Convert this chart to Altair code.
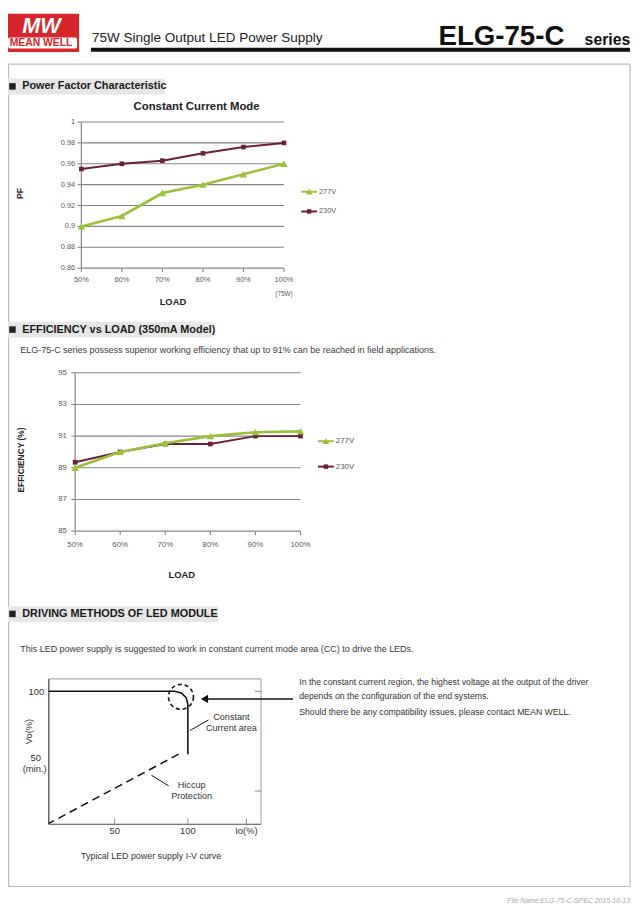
import altair as alt
import pandas as pd

# ---------------- data ----------------
LOAD = [50, 60, 70, 80, 90, 100]
LOAD_LABELS = ["50%", "60%", "70%", "80%", "90%", "100%"]
SERIES = ["277V", "230V"]

PF_277V = [0.900, 0.910, 0.932, 0.940, 0.950, 0.960]
PF_230V = [0.955, 0.960, 0.963, 0.970, 0.976, 0.980]
PF_TICKS = [0.86, 0.88, 0.90, 0.92, 0.94, 0.96, 0.98, 1.00]
PF_TICK_LABELS = ["0.86", "0.88", "0.9", "0.92", "0.94", "0.96", "0.98", "1"]

EFF_277V = [89.0, 90.0, 90.55, 91.0, 91.25, 91.3]
EFF_230V = [89.35, 90.0, 90.5, 90.5, 91.0, 91.0]
EFF_TICKS = [85, 87, 89, 91, 93, 95]
EFF_TICK_LABELS = ["85", "87", "89", "91", "93", "95"]

IV_IO = [5, 91, 95.5, 98.8, 100, 100]
IV_VO = [100, 100, 98.7, 95.2, 90.4, 52.7]
HICCUP_IO = [93.7, 5]
HICCUP_VO = [52.7, 0.7]
IO_TICKS = [50, 100, 140]
IO_TICK_LABELS = ["50", "100", "Io(%)"]
VO_TICKS = [100, 25]
CIRCLE_IO = [95.3]
CIRCLE_VO = [95.8]

# ---------------- styles ----------------
SANS = "Liberation Sans, Arial, sans-serif"
NARROW = "Liberation Sans, Arial, sans-serif"
GREEN = "#9CC03A"
MAROON = "#6B2038"
GRID = "#858585"
LAB = "#595959"
ONE = pd.DataFrame({"k": [0]})

layers = []


def S(domain, rng):
    return alt.Scale(domain=domain, range=rng, zero=False, nice=False)


def text(s, x, y, size=10, color="#333333", weight="normal", font=NARROW,
         align="left", baseline="middle", angle=None, style=None):
    kw = dict(text=s, fontSize=size, color=color, fontWeight=weight, font=font,
              align=align, baseline=baseline)
    if angle is not None:
        kw["angle"] = angle
    if style is not None:
        kw["fontStyle"] = style
    layers.append(alt.Chart(ONE).mark_text(**kw).encode(x=alt.value(x), y=alt.value(y)))


def rect(x0, x1, y0, y1, fill, stroke=None, sw=1, radius=0, opacity=1):
    kw = dict(fill=fill, cornerRadius=radius, fillOpacity=opacity)
    if stroke:
        kw["stroke"] = stroke
        kw["strokeWidth"] = sw
    layers.append(alt.Chart(ONE).mark_rect(**kw).encode(
        x=alt.value(x0), x2=alt.value(x1), y=alt.value(y0), y2=alt.value(y1)))


def line(x0, y0, x1, y1, color="#000", sw=1, dash=None):
    kw = dict(color=color, strokeWidth=sw)
    if dash:
        kw["strokeDash"] = dash
    layers.append(alt.Chart(ONE).mark_rule(**kw).encode(
        x=alt.value(x0), y=alt.value(y0), x2=alt.value(x1), y2=alt.value(y1)))


# ---------------- page frame & header ----------------
line(0, 51, 630, 51, "#bdbdbd", 1.2)
line(630, 51, 630, 884, "#bdbdbd", 1.2)
line(0, 884, 630, 884, "#bdbdbd", 1.2)
line(0.6, 51, 0.6, 884, "#bdbdbd", 1.2)

rect(0, 72, 0, 38.7, "#D7262B")
text("MW", 34, 19.5, size=22, color="white", weight="bold", font=SANS,
     align="center", baseline="alphabetic", style="italic")
rect(0, 70, 24.2, 35.3, "white", radius=2)
text("MEAN WELL", 33.5, 30, size=10.5, color="#D7262B", weight="bold", font=SANS,
     align="center")
text("75W Single Output LED Power Supply", 85, 24.5, size=13.7, color="#222222", font=SANS)
text("ELG-75-C", 436, 32, size=28, color="#111111", weight="bold", font=SANS,
     baseline="alphabetic")
text("series", 584, 32, size=16, color="#111111", weight="bold", font=SANS,
     baseline="alphabetic")
line(84, 36.5, 630, 36.5, "#111111", 4)

# ---------------- section headers ----------------
def section(title, x1, yc, para=None, para_y=None):
    rect(0, x1, yc - 8, yc + 8, "#e6e6e6")
    rect(1.2, 7.8, yc - 3.4, yc + 3.2, "#222222")
    text(title, 14.4, yc, size=11, color="#1a1a1a", weight="bold")
    if para:
        text(para, 12.4, para_y, size=9.1, color="#3a3a3a")


section("Power Factor Characteristic", 159, 73.7)
section("EFFICIENCY vs LOAD (350mA Model)", 206, 320,
        "ELG-75-C series possess superior working efficiency that up to 91% can be reached in field applications.",
        340.5)
section("DRIVING METHODS OF LED MODULE", 213, 608,
        "This LED power supply is suggested to work in constant current mode area (CC) to drive the LEDs.",
        643.5)


# ---------------- generic line chart ----------------
def line_chart(xr, yr, ydom, yticks, ylabels, s277, s230, ylab_x, xlab_y, legend_x, legend_y,
               lab_size):
    sx = S([50, 100], xr)
    sy = S(ydom, yr)
    gt = pd.DataFrame({"v": yticks, "lab": ylabels})
    layers.append(alt.Chart(gt).mark_rule(color=GRID, strokeWidth=1.1).encode(
        y=alt.Y("v:Q", scale=sy, axis=None), x=alt.value(xr[0]), x2=alt.value(xr[1])))
    layers.append(alt.Chart(gt).mark_rule(color=GRID, strokeWidth=1.1).encode(
        y=alt.Y("v:Q", scale=sy, axis=None), x=alt.value(xr[0] - 4), x2=alt.value(xr[0])))
    layers.append(alt.Chart(gt).mark_text(align="right", baseline="middle", fontSize=lab_size,
                                          color=LAB, font=SANS).encode(
        y=alt.Y("v:Q", scale=sy, axis=None), x=alt.value(ylab_x), text="lab:N"))
    layers.append(alt.Chart(ONE).mark_rule(color=GRID, strokeWidth=1.2).encode(
        x=alt.value(xr[0]), y=alt.value(yr[0]), y2=alt.value(yr[1])))
    xt = pd.DataFrame({"load": LOAD, "lab": LOAD_LABELS})
    layers.append(alt.Chart(xt).mark_rule(color=GRID, strokeWidth=1.1).encode(
        x=alt.X("load:Q", scale=sx, axis=None), y=alt.value(yr[0]), y2=alt.value(yr[0] + 4)))
    layers.append(alt.Chart(xt).mark_text(align="center", baseline="middle", fontSize=lab_size,
                                          color=LAB, font=SANS).encode(
        x=alt.X("load:Q", scale=sx, axis=None), y=alt.value(xlab_y), text="lab:N"))
    for vals, color, shape, size, sw in ((s230, MAROON, "square", 22, 2.0),
                                         (s277, GREEN, "triangle-up", 55, 2.6)):
        df = pd.DataFrame({"load": LOAD, "v": vals})
        base = alt.Chart(df).encode(x=alt.X("load:Q", scale=sx, axis=None),
                                    y=alt.Y("v:Q", scale=sy, axis=None))
        layers.append(base.mark_line(color=color, strokeWidth=sw))
        layers.append(base.mark_point(shape=shape, size=size, filled=True, color=color, opacity=1))
    for i, (name, color, shape, size) in enumerate(((SERIES[0], GREEN, "triangle-up", 45),
                                                    (SERIES[1], MAROON, "square", 20))):
        ly = legend_y[i]
        line(legend_x, ly, legend_x + 16, ly, color, 2)
        layers.append(alt.Chart(ONE).mark_point(shape=shape, size=size, filled=True, color=color,
                                                opacity=1).encode(
            x=alt.value(legend_x + 8), y=alt.value(ly)))
        text(name, legend_x + 18, ly, size=lab_size, color=LAB, font=SANS)


# Chart 1 : Power factor
line_chart([74.3, 279.5], [257.7, 109.7], [0.86, 1.0], PF_TICKS, PF_TICK_LABELS,
           PF_277V, PF_230V, 68, 270, 297, [180.3, 200.3], 7.5)
text("Constant Current Mode", 191, 94.3, size=11.5, color="#222222", weight="bold", font=SANS,
     align="center")
text("PF", 12, 182, size=9, color="#222222", weight="bold", font=SANS, align="center", angle=270)
text("LOAD", 167, 292, size=9.5, color="#222222", weight="bold", font=SANS, align="center")
text("(75W)", 279.5, 284, size=6.5, color=LAB, font=SANS, align="center")

# Chart 2 : Efficiency
line_chart([68, 296.3], [524, 363.7], [85, 95], EFF_TICKS, EFF_TICK_LABELS,
           EFF_277V, EFF_230V, 59.7, 538, 314, [433, 458.7], 8)
text("EFFICIENCY (%)", 13, 452, size=8.5, color="#222222", weight="bold", font=SANS,
     align="center", angle=270)
text("LOAD", 176, 569, size=9.5, color="#222222", weight="bold", font=SANS, align="center")

# ---------------- I-V curve ----------------
XI = S([5, 150], [41.3, 256.3])
YI = S([0, 109.3], [821, 673.7])
rect(41.3, 256.3, 673.7, 821, "white", stroke="#9a9a9a", sw=1, opacity=0)
line(41.3, 673.7, 41.3, 821, "#555555", 1.2)
line(41.3, 821, 256.3, 821, "#777777", 1.2)

io = pd.DataFrame({"io": IO_TICKS, "lab": IO_TICK_LABELS})
layers.append(alt.Chart(io).mark_rule(color="#8a8a8a", strokeWidth=1).encode(
    x=alt.X("io:Q", scale=XI, axis=None), y=alt.value(815), y2=alt.value(821)))
layers.append(alt.Chart(io).mark_text(fontSize=9.5, color="#333333", font=NARROW,
                                      align="center", baseline="middle").encode(
    x=alt.X("io:Q", scale=XI, axis=None), y=alt.value(828), text="lab:N"))
vo = pd.DataFrame({"vo": VO_TICKS})
layers.append(alt.Chart(vo).mark_rule(color="#8a8a8a", strokeWidth=1).encode(
    y=alt.Y("vo:Q", scale=YI, axis=None), x=alt.value(250), x2=alt.value(256.3)))

text("100", 28.7, 687, size=9.5, color="#333333", align="center")
text("50", 28, 754, size=9.5, color="#333333", align="center")
text("(min.)", 27, 765, size=9.5, color="#333333", align="center")
text("Vo(%)", 21, 727, size=9.5, color="#333333", align="center", angle=270)
text("Typical LED power supply I-V curve", 145, 853, size=9, color="#333333", align="center")

curve = pd.DataFrame({"io": IV_IO, "vo": IV_VO, "o": list(range(len(IV_IO)))})
layers.append(alt.Chart(curve).mark_line(color="#111111", strokeWidth=1.6).encode(
    x=alt.X("io:Q", scale=XI, axis=None), y=alt.Y("vo:Q", scale=YI, axis=None), order="o:Q"))
hic = pd.DataFrame({"io": HICCUP_IO, "vo": HICCUP_VO, "o": [0, 1]})
layers.append(alt.Chart(hic).mark_line(color="#111111", strokeWidth=1.5, strokeDash=[8, 5]).encode(
    x=alt.X("io:Q", scale=XI, axis=None), y=alt.Y("vo:Q", scale=YI, axis=None), order="o:Q"))
circ = pd.DataFrame({"io": CIRCLE_IO, "vo": CIRCLE_VO})
layers.append(alt.Chart(circ).mark_point(shape="circle", size=640, filled=False, color="#111111",
                                         strokeWidth=1.6, strokeDash=[4, 3], opacity=1).encode(
    x=alt.X("io:Q", scale=XI, axis=None), y=alt.Y("vo:Q", scale=YI, axis=None)))

line(199, 694, 288.7, 694, "#111111", 1.4)
layers.append(alt.Chart(ONE).mark_point(shape="triangle-left", size=70, filled=True,
                                        color="#111111", opacity=1).encode(
    x=alt.value(199), y=alt.value(694)))
line(184.3, 726, 203, 715.3, "#111111", 1)
line(145.3, 771.3, 162.7, 782, "#111111", 1)
text("Constant", 226.3, 712.7, size=9.2, color="#333333", align="center")
text("Current area", 226.3, 723.7, size=9.2, color="#333333", align="center")
text("Hiccup", 186, 781, size=9.2, color="#333333", align="center")
text("Protection", 186, 792, size=9.2, color="#333333", align="center")

text("In the constant current region, the highest voltage at the output of the driver",
     295, 677, size=8.8, color="#333333")
text("depends on the configuration of the end systems.", 295, 691.3, size=8.8, color="#333333")
text("Should there be any compatibility issues, please contact MEAN WELL.", 295, 707,
     size=8.8, color="#333333")

text("File Name:ELG-75-C-SPEC   2015-10-13", 630, 899, size=7, color="#aaaaaa", align="right",
     style="italic")

chart = alt.layer(*layers).resolve_scale(x="independent", y="independent").properties(
    width=632, height=904, padding=0, autosize=alt.AutoSizeParams(type="none")
).configure_view(stroke=None)

chart.save("out.html", embed_options={"renderer": "svg", "actions": False})
